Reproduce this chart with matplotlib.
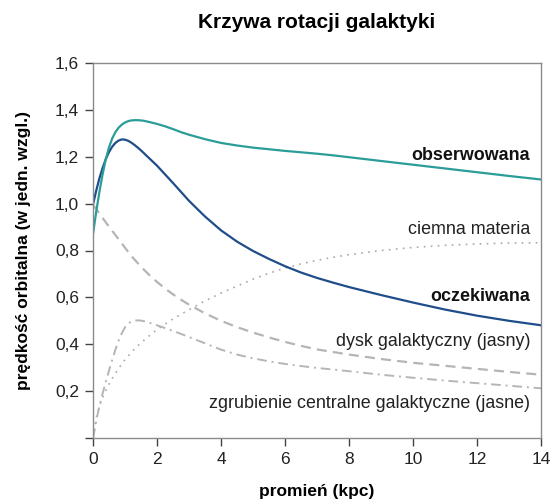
import matplotlib
matplotlib.use("Agg")
import matplotlib.pyplot as plt
from matplotlib.ticker import FuncFormatter

plt.rcParams['font.family'] = ['Liberation Sans', 'DejaVu Sans']

# Radius (kpc) shared by all curves
radius = [0, 0.1, 0.2, 0.3, 0.4, 0.5, 0.6, 0.7, 0.8, 0.9, 1.0, 1.1, 1.2, 1.3,
          1.4, 1.5, 1.6, 1.8, 2.0, 2.25, 2.5, 2.75, 3.0, 3.5, 4.0, 4.5, 5.0,
          5.5, 6.0, 6.5, 7.0, 7.5, 8.0, 9.0, 10.0, 11.0, 12.0, 13.0, 14.0]

# Orbital speed (relative units)
observed = [0.87, 0.965, 1.05, 1.125, 1.19, 1.24, 1.278, 1.305, 1.324, 1.337,
            1.346, 1.352, 1.355, 1.356, 1.356, 1.355, 1.353, 1.347, 1.34,
            1.33, 1.318, 1.305, 1.294, 1.275, 1.259, 1.248, 1.239, 1.232,
            1.225, 1.219, 1.213, 1.206, 1.198, 1.182, 1.166, 1.15, 1.134,
            1.118, 1.103]
expected = [0.996, 1.055, 1.108, 1.152, 1.19, 1.22, 1.243, 1.259, 1.269,
            1.274, 1.273, 1.268, 1.26, 1.25, 1.239, 1.227, 1.214, 1.188,
            1.162, 1.125, 1.088, 1.05, 1.012, 0.945, 0.886, 0.838, 0.798,
            0.764, 0.733, 0.706, 0.683, 0.663, 0.644, 0.61, 0.578, 0.548,
            0.522, 0.50, 0.481]
dark_matter = [0.0, 0.085, 0.135, 0.172, 0.203, 0.23, 0.254, 0.276, 0.297,
               0.316, 0.334, 0.35, 0.365, 0.38, 0.393, 0.406, 0.418, 0.441,
               0.462, 0.486, 0.508, 0.528, 0.547, 0.585, 0.618, 0.648, 0.678,
               0.703, 0.725, 0.743, 0.758, 0.771, 0.782, 0.80, 0.813, 0.822,
               0.828, 0.832, 0.833]
disk = [0.995, 0.977, 0.958, 0.939, 0.92, 0.902, 0.884, 0.866, 0.848, 0.83,
        0.812, 0.794, 0.777, 0.761, 0.746, 0.731, 0.717, 0.69, 0.666, 0.638,
        0.613, 0.59, 0.569, 0.532, 0.50, 0.473, 0.45, 0.429, 0.41, 0.393,
        0.378, 0.367, 0.356, 0.337, 0.321, 0.308, 0.295, 0.282, 0.27]
bulge = [0.0, 0.07, 0.138, 0.19, 0.24, 0.288, 0.333, 0.377, 0.415, 0.447,
         0.472, 0.488, 0.497, 0.501, 0.502, 0.501, 0.498, 0.49, 0.481, 0.469,
         0.457, 0.444, 0.431, 0.404, 0.377, 0.356, 0.34, 0.327, 0.316, 0.307,
         0.299, 0.292, 0.285, 0.27, 0.257, 0.245, 0.234, 0.223, 0.212]

x_ticks = [0, 2, 4, 6, 8, 10, 12, 14]
y_ticks = [0.0, 0.2, 0.4, 0.6, 0.8, 1.0, 1.2, 1.4, 1.6]

teal = '#2a9d98'
navy = '#1f4d8a'
gray = '#b5b5b5'
spine_gray = '#8a8a8a'

fig = plt.figure(figsize=(5.52, 5.01), dpi=100)
ax = fig.add_axes([93 / 552, 63 / 501, 448 / 552, 375 / 501])

ax.plot(radius, dark_matter, color='#a9a9a9', lw=1.2, linestyle=(0, (1, 3.2)))
ax.plot(radius, disk, color=gray, lw=1.6, linestyle=(0, (4.5, 2.8)))
ax.plot(radius, bulge, color=gray, lw=1.4, linestyle=(0, (5, 2.5, 1, 2.5)))
ax.plot(radius, expected, color=navy, lw=1.6, solid_capstyle='round',
        solid_joinstyle='round')
ax.plot(radius, observed, color=teal, lw=1.6, solid_capstyle='round',
        solid_joinstyle='round')

ax.set_xlim(0, 14)
ax.set_ylim(0, 1.6)
ax.set_xticks(x_ticks)
ax.set_yticks(y_ticks)
ax.xaxis.set_major_formatter(FuncFormatter(lambda v, p: f"{v:.0f}"))
ax.yaxis.set_major_formatter(
    FuncFormatter(lambda v, p: "" if abs(v) < 1e-9 else f"{v:.1f}".replace('.', ',')))

for s in ax.spines.values():
    s.set_color(spine_gray)
    s.set_linewidth(1.0)
ax.tick_params(axis='both', direction='out', length=6, width=1.0,
               color='#444444', labelsize=12.5, labelcolor='#222222', pad=4)

ax.set_xlabel('promień (kpc)', fontsize=12.5, fontweight='bold', labelpad=12)
ax.set_ylabel('prędkość orbitalna (w jedn. wzgl.)', fontsize=12.5,
              fontweight='bold', labelpad=17)
fig.text(0.5745, 1 - 22 / 501, 'Krzywa rotacji galaktyki', ha='center',
         va='center', fontsize=15, fontweight='bold')

lab_x = 13.66
lab_size = 12.9
ax.text(lab_x, 1.207, 'obserwowana', ha='right', va='center',
        fontsize=lab_size, fontweight='bold', color='#111111')
ax.text(lab_x, 0.889, 'ciemna materia', ha='right', va='center',
        fontsize=lab_size, color='#222222')
ax.text(lab_x, 0.603, 'oczekiwana', ha='right', va='center',
        fontsize=lab_size, fontweight='bold', color='#111111')
ax.text(lab_x, 0.413, 'dysk galaktyczny (jasny)', ha='right', va='center',
        fontsize=lab_size, color='#222222')
ax.text(lab_x, 0.149, 'zgrubienie centralne galaktyczne (jasne)', ha='right',
        va='center', fontsize=lab_size, color='#222222')

fig.savefig('out.png', dpi=100)
